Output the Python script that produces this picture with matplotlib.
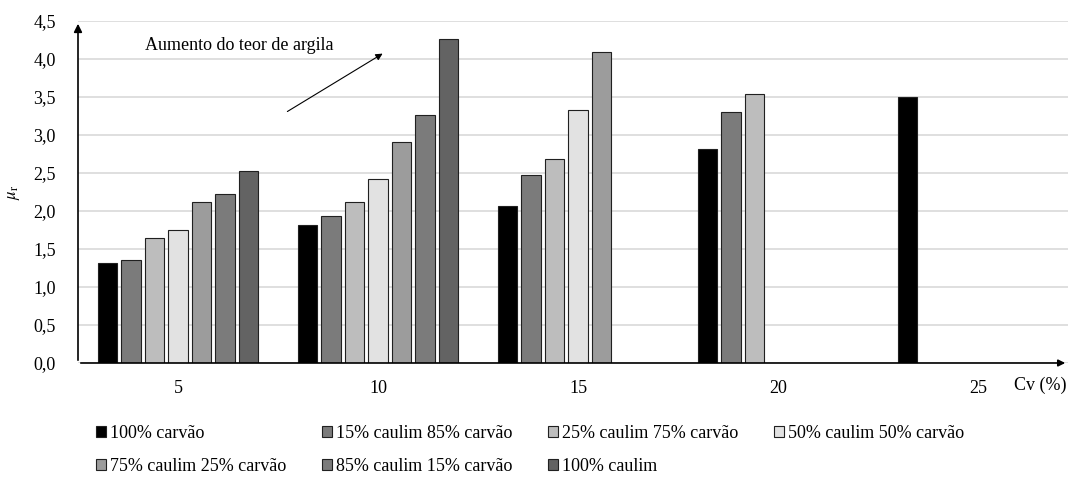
import numpy as np
import matplotlib
matplotlib.use("Agg")
import matplotlib.pyplot as plt
from matplotlib.patches import Patch

plt.rcParams['font.family'] = ['Liberation Serif', 'DejaVu Serif']
plt.rcParams['mathtext.fontset'] = 'stix'

# Cv (%) categories
categorias = ["5", "10", "15", "20", "25"]

# mu_r for each mixture (nan = no bar)
nan = np.nan
carvao_100 = [1.32, 1.82, 2.07, 2.82, 3.50]
caulim15 = [1.35, 1.93, 2.48, 3.30, nan]
caulim25 = [1.64, 2.12, 2.69, 3.54, nan]
caulim50 = [1.75, 2.42, 3.33, nan, nan]
caulim75 = [2.12, 2.91, 4.09, nan, nan]
caulim85 = [2.22, 3.26, nan, nan, nan]
caulim_100 = [2.53, 4.26, nan, nan, nan]

series = [carvao_100, caulim15, caulim25, caulim50, caulim75, caulim85, caulim_100]
nomes = ["100% carvão", "15% caulim 85% carvão", "25% caulim 75% carvão",
         "50% caulim 50% carvão", "75% caulim 25% carvão", "85% caulim 15% carvão",
         "100% caulim"]
cores = ["#000000", "#7b7b7b", "#bdbdbd", "#e2e2e2", "#9c9c9c", "#7b7b7b", "#636363"]

y_ticks = np.arange(0, 4.51, 0.5)
y_labels = ["0,0", "0,5", "1,0", "1,5", "2,0", "2,5", "3,0", "3,5", "4,0", "4,5"]

fig = plt.figure(figsize=(10.68, 4.8), dpi=100)
ax = fig.add_axes([78/1068, 1 - 363/480, 1 - 78/1068, 342/480])

x = np.arange(len(categorias))
pitch = 0.1175
width = 0.097
for i, (vals, cor) in enumerate(zip(series, cores)):
    off = (i - 3) * pitch
    ax.bar(x + off, vals, width, color=cor, edgecolor="#202020", linewidth=0.8, zorder=3)

ax.set_xlim(-0.5, (1068 - 178) / 200)
ax.set_ylim(0, 4.5)
ax.set_yticks(y_ticks)
ax.set_yticklabels(y_labels)
ax.set_xticks(x)
ax.set_xticklabels(categorias)
ax.tick_params(axis="both", length=0, labelsize=13)
ax.tick_params(axis="y", pad=16)
ax.tick_params(axis="x", pad=12)
ax.yaxis.grid(True, color="#d9d9d9", linewidth=1.2, zorder=0)
for s in ax.spines.values():
    s.set_visible(False)

# axes with arrows
ax.annotate("", xy=(1.0, 0), xytext=(0, 0), xycoords="axes fraction",
            arrowprops=dict(arrowstyle="-|>", color="black", lw=1.2, mutation_scale=10),
            annotation_clip=False, zorder=5)
ax.annotate("", xy=(0, 1.0), xytext=(0, 0), xycoords="axes fraction",
            arrowprops=dict(arrowstyle="-|>", color="black", lw=1.2, mutation_scale=12),
            annotation_clip=False, zorder=5)

# annotation arrow
ax.annotate("", xy=(1.035, 4.09), xytext=(0.535, 3.29),
            arrowprops=dict(arrowstyle="-|>", color="black", lw=0.8, mutation_scale=10))
ax.text(-0.165, 4.18, "Aumento do teor de argila", fontsize=13, va="center", ha="left")

ax.set_ylabel(r"$\mu_\mathrm{r}$", fontsize=12)
ax.yaxis.set_label_coords(-56/990, 0.5)
fig.text(1014/1068, 1 - 385/480, "Cv (%)", fontsize=13, va="center", ha="left")

handles = [Patch(facecolor=c, edgecolor="#202020", linewidth=0.8) for c in cores]
ordem = [0, 4, 1, 5, 2, 6, 3]
fig.legend([handles[k] for k in ordem], [nomes[k] for k in ordem], ncol=4,
           loc="upper left", bbox_to_anchor=(96/1068, 1 - 425/480), frameon=False,
           fontsize=13, handlelength=0.55, handleheight=0.55, handletextpad=0.25,
           columnspacing=1.95, labelspacing=0.9, borderpad=0, borderaxespad=0)

plt.savefig("out.png", dpi=100)
